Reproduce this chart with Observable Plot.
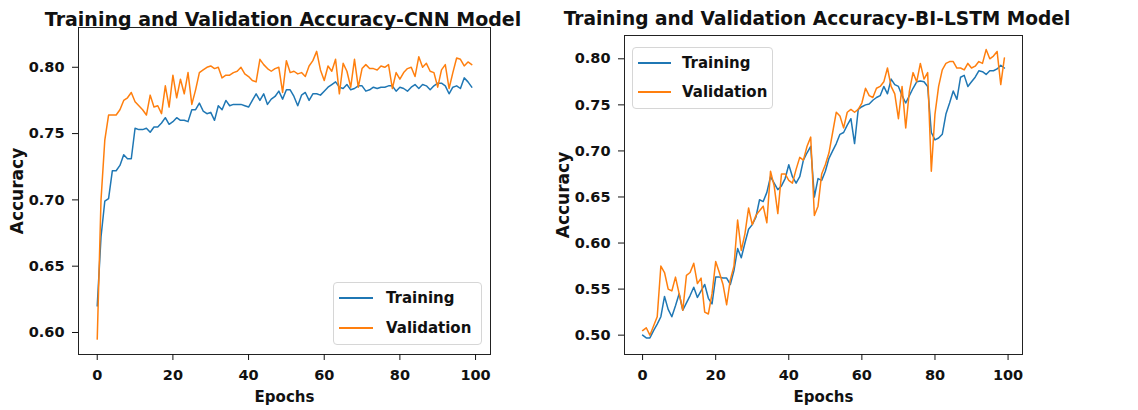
<!DOCTYPE html>
<html><head><meta charset="utf-8">
<script src="https://cdn.jsdelivr.net/npm/d3@7"></script>
<script src="https://cdn.jsdelivr.net/npm/@observablehq/plot@0.6"></script>
<style>
body{margin:0;background:#fff;font-family:"DejaVu Sans",sans-serif;}
#wrap{position:relative;width:1138px;height:410px;overflow:hidden;background:#fff}
.panel{position:absolute;top:0}
.title{position:absolute;top:10px;font-weight:bold;line-height:1;white-space:nowrap;transform:translateX(-50%);color:#111}
.legend{position:absolute;border:1px solid #d6d6d6;border-radius:4px;background:rgba(255,255,255,0.85);font-weight:bold;font-size:15px;color:#111;box-sizing:border-box}
.row{position:absolute;left:0;height:20px;display:flex;align-items:center;white-space:nowrap}
.swatch{display:inline-block;height:0;border-top:2px solid}
</style></head>
<body><div id="wrap"></div>
<script>
const epochs = d3.range(100);
const xTicks = [0, 20, 40, 60, 80, 100];
const seriesNames = ["Training", "Validation"];
const seriesColors = ["#1f77b4", "#ff7f0e"];

const cnnTitle = "Training and Validation Accuracy-CNN Model";
const cnnYTicks = [0.60, 0.65, 0.70, 0.75, 0.80];
const cnnTrain = [0.620,0.672,0.699,0.701,0.722,0.722,0.726,0.734,0.731,0.731,
0.754,0.753,0.753,0.754,0.751,0.755,0.755,0.758,0.762,0.757,
0.759,0.762,0.760,0.760,0.759,0.768,0.768,0.773,0.767,0.765,
0.766,0.760,0.771,0.768,0.775,0.771,0.772,0.772,0.772,0.771,
0.770,0.775,0.780,0.775,0.780,0.772,0.776,0.778,0.782,0.776,
0.783,0.783,0.778,0.771,0.779,0.781,0.775,0.780,0.780,0.779,
0.782,0.785,0.787,0.789,0.785,0.784,0.787,0.783,0.784,0.786,
0.786,0.782,0.783,0.785,0.784,0.785,0.785,0.786,0.786,0.782,
0.785,0.784,0.782,0.785,0.787,0.784,0.787,0.786,0.783,0.786,
0.788,0.788,0.786,0.780,0.785,0.786,0.784,0.792,0.789,0.785];
const cnnVal = [0.595,0.700,0.745,0.764,0.764,0.764,0.768,0.775,0.777,0.781,
0.774,0.771,0.768,0.764,0.779,0.770,0.771,0.765,0.786,0.770,
0.794,0.777,0.791,0.780,0.796,0.772,0.783,0.796,0.798,0.800,
0.801,0.799,0.800,0.792,0.794,0.794,0.796,0.797,0.800,0.795,
0.793,0.790,0.789,0.806,0.802,0.799,0.797,0.799,0.800,0.781,
0.805,0.796,0.797,0.795,0.796,0.793,0.801,0.805,0.812,0.798,
0.790,0.801,0.797,0.806,0.780,0.803,0.797,0.785,0.806,0.785,
0.799,0.802,0.799,0.799,0.798,0.801,0.800,0.802,0.784,0.796,
0.791,0.796,0.799,0.800,0.793,0.808,0.800,0.803,0.797,0.796,
0.785,0.798,0.802,0.784,0.796,0.807,0.806,0.801,0.804,0.802];

const lstmTitle = "Training and Validation Accuracy-BI-LSTM Model";
const lstmYTicks = [0.50, 0.55, 0.60, 0.65, 0.70, 0.75, 0.80];
const lstmTrain = [0.500,0.497,0.497,0.505,0.512,0.520,0.542,0.528,0.520,0.532,
0.545,0.527,0.535,0.543,0.552,0.541,0.548,0.555,0.540,0.534,
0.563,0.563,0.562,0.562,0.555,0.570,0.594,0.584,0.600,0.615,
0.620,0.628,0.647,0.645,0.655,0.672,0.665,0.658,0.662,0.670,
0.685,0.672,0.665,0.672,0.690,0.698,0.705,0.650,0.670,0.668,
0.678,0.692,0.700,0.708,0.718,0.720,0.728,0.735,0.708,0.745,
0.748,0.750,0.751,0.755,0.758,0.760,0.770,0.762,0.778,0.772,
0.770,0.760,0.752,0.760,0.768,0.775,0.776,0.775,0.770,0.720,
0.712,0.714,0.718,0.740,0.752,0.765,0.756,0.780,0.782,0.770,
0.775,0.780,0.787,0.786,0.783,0.787,0.787,0.789,0.793,0.790];
const lstmVal = [0.505,0.508,0.500,0.510,0.520,0.575,0.568,0.550,0.548,0.563,
0.545,0.527,0.565,0.568,0.578,0.556,0.562,0.525,0.523,0.545,
0.580,0.568,0.555,0.533,0.560,0.575,0.625,0.592,0.610,0.638,
0.620,0.630,0.635,0.640,0.622,0.678,0.662,0.632,0.675,0.675,
0.668,0.665,0.680,0.693,0.690,0.705,0.715,0.630,0.640,0.675,
0.685,0.698,0.720,0.742,0.738,0.725,0.742,0.745,0.742,0.745,
0.752,0.768,0.760,0.758,0.768,0.770,0.775,0.790,0.770,0.762,
0.735,0.770,0.725,0.765,0.785,0.775,0.795,0.778,0.785,0.678,
0.740,0.770,0.788,0.795,0.797,0.797,0.790,0.790,0.788,0.795,
0.790,0.792,0.797,0.795,0.810,0.800,0.803,0.808,0.772,0.801];

function makePanel(o){
  const rows = [];
  [o.train, o.val].forEach((arr, s) => arr.forEach((v, i) => rows.push({epoch: epochs[i], acc: v, series: seriesNames[s]})));
  const chart = Plot.plot({
    width: o.width, height: 410,
    marginLeft: o.ml, marginRight: o.mr, marginTop: o.mt, marginBottom: o.mb,
    style: {fontFamily: "DejaVu Sans", fontSize: "14.5px", fontWeight: "bold", color: "#111", background: "transparent", overflow: "visible"},
    x: {domain: [-4.95, 103.95], label: null},
    y: {domain: o.yDomain, label: null},
    color: {domain: seriesNames, range: seriesColors},
    marks: [
      Plot.lineY(rows, {x: "epoch", y: "acc", stroke: "series", strokeWidth: 1.5}),
      Plot.frame({stroke: "#222", strokeWidth: 1}),
      Plot.axisX({ticks: xTicks, tickSize: 6, tickPadding: 9, tickFormat: d => String(d), label: null}),
      Plot.axisX({ticks: [], tickSize: 0, fontSize: 15, label: "Epochs", labelAnchor: "center", labelOffset: 47, labelArrow: "none"}),
      Plot.axisY({ticks: o.yTicks, tickSize: 6, tickPadding: 8, tickFormat: ".2f", label: null}),
      Plot.axisY({ticks: [], tickSize: 0, fontSize: 17, label: "Accuracy", labelAnchor: "center", labelOffset: 68, labelArrow: "none"})
    ]
  });
  const div = document.createElement("div");
  div.className = "panel";
  div.style.left = o.left + "px";
  div.appendChild(chart);
  document.getElementById("wrap").appendChild(div);

  const t = document.createElement("div");
  t.className = "title";
  t.style.left = o.titleX + "px";
  t.style.fontSize = o.titleSize + "px";
  t.textContent = o.title;
  document.getElementById("wrap").appendChild(t);

  const lg = document.createElement("div");
  lg.className = "legend";
  Object.assign(lg.style, {left: o.lg.x + "px", top: o.lg.y + "px", width: o.lg.w + "px", height: o.lg.h + "px"});
  seriesNames.forEach((name, s) => {
    const r = document.createElement("div");
    r.className = "row";
    r.style.top = (o.lg.rows[s] - 10) + "px";
    const sw = document.createElement("span");
    sw.className = "swatch";
    sw.style.borderColor = seriesColors[s];
    sw.style.width = o.lg.sw + "px";
    sw.style.marginLeft = "5px";
    const tx = document.createElement("span");
    tx.textContent = name;
    tx.style.marginLeft = o.lg.gap + "px";
    r.appendChild(sw); r.appendChild(tx);
    lg.appendChild(r);
  });
  document.getElementById("wrap").appendChild(lg);
}

makePanel({left: 0, width: 560, ml: 78, mr: 70, mt: 27, mb: 56,
  yDomain: [0.5834, 0.830], yTicks: cnnYTicks, train: cnnTrain, val: cnnVal,
  title: cnnTitle, titleX: 283, titleSize: 19,
  lg: {x: 333, y: 282, w: 149, h: 63, rows: [15, 45], sw: 34, gap: 13}});
makePanel({left: 546, width: 560, ml: 78, mr: 84, mt: 35, mb: 56,
  yDomain: [0.479, 0.8253], yTicks: lstmYTicks, train: lstmTrain, val: lstmVal,
  title: lstmTitle, titleX: 817, titleSize: 18.6,
  lg: {x: 632, y: 47, w: 141, h: 62, rows: [15, 44], sw: 33, gap: 11}});
</script></body></html>
